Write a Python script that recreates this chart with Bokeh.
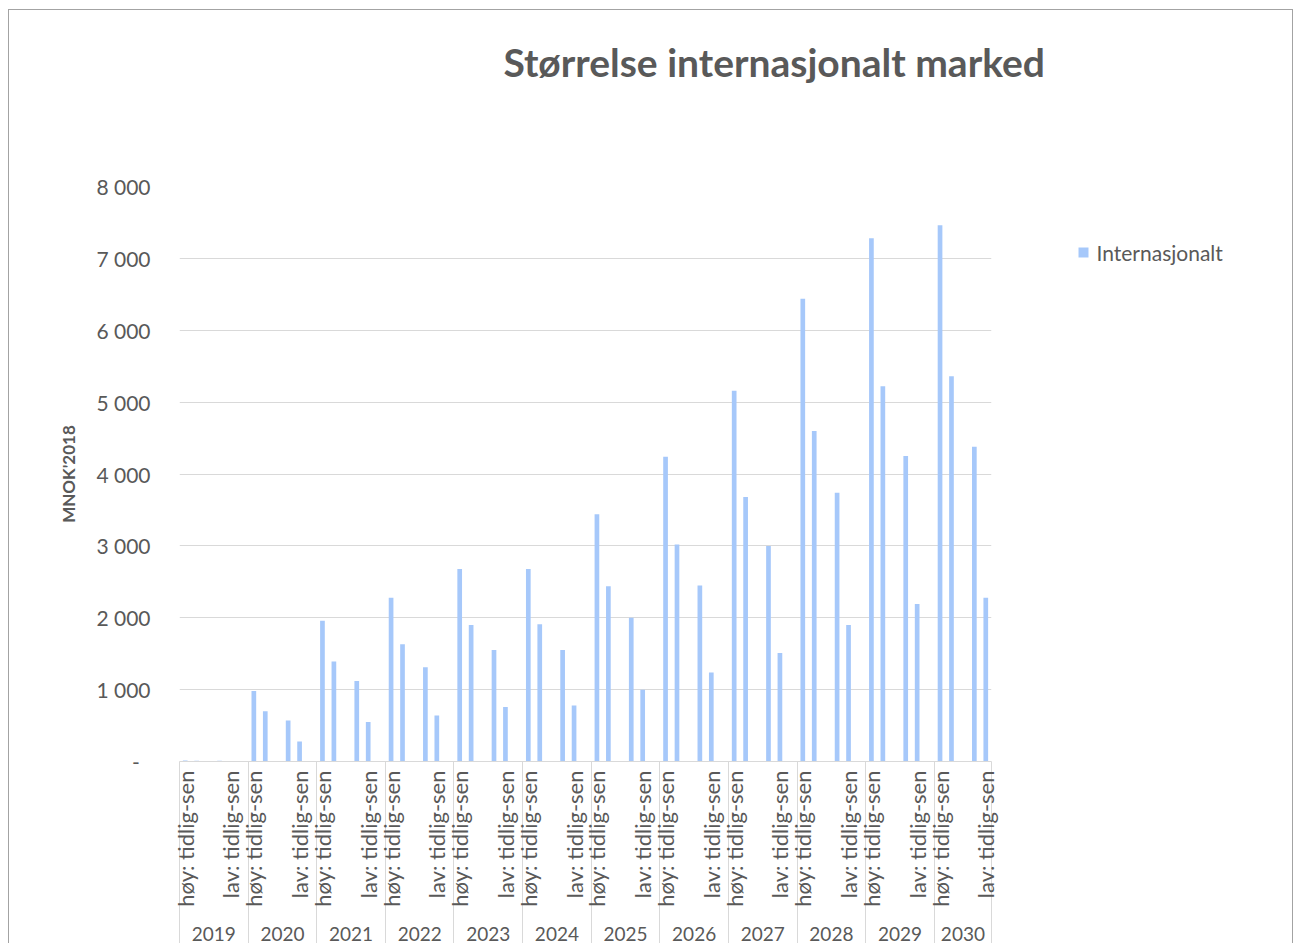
import math
from bokeh.plotting import figure
from bokeh.models import (ColumnDataSource, Range1d, FixedTicker, LinearAxis,
                          InlineStyleSheet)
from bokeh.embed import file_html
from bokeh.resources import INLINE

# ---------------- data ----------------
years = ["2019", "2020", "2021", "2022", "2023", "2024",
         "2025", "2026", "2027", "2028", "2029", "2030"]
scenario_labels = ["høy: tidlig-sen", "lav: tidlig-sen"]
series_name = "Internasjonalt"

# four bars per year (høy: two bars, lav: two bars)
hoy_1 = [15, 980, 1960, 2280, 2680, 2680, 3440, 4240, 5160, 6440, 7280, 7460]
hoy_2 = [12, 700, 1390, 1630, 1900, 1910, 2440, 3020, 3680, 4600, 5220, 5360]
lav_1 = [10, 570, 1120, 1310, 1550, 1550, 2000, 2450, 3000, 3740, 4250, 4380]
lav_2 = [8, 280, 550, 640, 760, 780, 1000, 1240, 1510, 1900, 2190, 2280]

y_tick_values = [0, 1000, 2000, 3000, 4000, 5000, 6000, 7000, 8000]
y_tick_labels = ["-\u00a0\u00a0", "1 000", "2 000", "3 000", "4 000",
                 "5 000", "6 000", "7 000", "8 000"]
y_axis_title = "MNOK'2018"
chart_title = "Størrelse internasjonalt marked"

# ---------------- layout helpers (half-slot units) ----------------
YEAR_W = 12                      # 6 slots per year, 2 units per slot
bar_offsets = [1, 3, 7, 9]       # slot 0,1,3,4 centres
label_offsets = [1, 9]           # slot 0 and slot 4 centres
x_end = YEAR_W * len(years) - 2  # last year has no trailing empty slot

xs, tops = [], []
for i in range(len(years)):
    for off, series in zip(bar_offsets, [hoy_1, hoy_2, lav_1, lav_2]):
        xs.append(i * YEAR_W + off)
        tops.append(series[i])
src = ColumnDataSource(dict(x=xs, top=tops))

label_ticks, label_over = [], {}
for i in range(len(years)):
    for off, lab in zip(label_offsets, scenario_labels):
        t = i * YEAR_W + off
        label_ticks.append(t)
        label_over[t] = lab

boundaries = [i * YEAR_W for i in range(len(years))] + [x_end]
year_ticks, year_over = [], {}
for i, yr in enumerate(years):
    s = i * YEAR_W
    e = min((i + 1) * YEAR_W, x_end)
    c = (s + e) // 2 if (s + e) % 2 == 0 else (s + e) / 2
    year_ticks.append(c)
    year_over[c] = yr

TXT = "#595959"
FONT = "Lato"
BAR = "#a6c8fa"

p = figure(width=1299, height=943,
           x_range=Range1d(0, x_end), y_range=Range1d(0, 8000),
           output_backend="svg", toolbar_location=None,
           min_border_left=179, min_border_right=308,
           min_border_top=186, min_border_bottom=182,
           x_axis_location=None)
p.background_fill_color = "white"
p.border_fill_color = "white"
p.outline_line_color = None
p.stylesheets = [InlineStyleSheet(css="""
:host { position: relative; }
:host::after {
  content: ""; position: absolute; left: 8px; top: 9px; right: 6px; bottom: 0px;
  border: 1px solid #a3a3a3; border-bottom: none; pointer-events: none;
}
""")]

bars = p.vbar(x="x", top="top", width=0.82, source=src,
              fill_color=BAR, line_color=None)

# y axis
yt = FixedTicker(ticks=y_tick_values)
ya = p.yaxis[0]
ya.ticker = yt
ya.major_label_overrides = {v: l for v, l in zip(y_tick_values, y_tick_labels)}
ya.axis_line_color = None
ya.major_tick_line_color = None
ya.minor_tick_line_color = None
ya.major_tick_out = 0
ya.minor_tick_out = 0
ya.major_label_standoff = 29
ya.major_label_text_font = FONT
ya.major_label_text_font_size = "21px"
ya.major_label_text_color = TXT
ya.axis_label = y_axis_title
ya.axis_label_text_font = FONT
ya.axis_label_text_font_style = "bold"
ya.axis_label_text_font_size = "17px"
ya.axis_label_text_color = TXT
ya.axis_label_standoff = 14

p.ygrid.ticker = yt
p.ygrid.grid_line_color = "#d9d9d9"
p.ygrid.grid_line_width = 1
p.xgrid.visible = False

# category axis (scenario labels + year separators as minor ticks)
cat_axis = LinearAxis(ticker=FixedTicker(ticks=label_ticks, minor_ticks=boundaries))
cat_axis.major_label_overrides = label_over
cat_axis.axis_line_color = "#d9d9d9"
cat_axis.major_tick_line_color = None
cat_axis.major_tick_out = 0
cat_axis.major_tick_in = 0
cat_axis.minor_tick_line_color = "#d9d9d9"
cat_axis.minor_tick_out = 182
cat_axis.minor_tick_in = 0
cat_axis.major_label_standoff = 9 - 182
cat_axis.major_label_orientation = math.pi / 2
cat_axis.major_label_text_font = FONT
cat_axis.major_label_text_font_size = "22px"
cat_axis.major_label_text_color = TXT
p.add_layout(cat_axis, "below")

year_axis = LinearAxis(ticker=FixedTicker(ticks=year_ticks))
year_axis.major_label_overrides = year_over
year_axis.axis_line_color = None
year_axis.major_tick_line_color = None
year_axis.minor_tick_line_color = None
year_axis.major_tick_out = 0
year_axis.minor_tick_out = 0
year_axis.major_label_standoff = 17
year_axis.major_label_text_font = FONT
year_axis.major_label_text_font_size = "19px"
year_axis.major_label_text_color = TXT
p.add_layout(year_axis, "below")

# chart title as a label above the plot area
title_tick = 104
title_axis = LinearAxis(ticker=FixedTicker(ticks=[title_tick]))
title_axis.major_label_overrides = {title_tick: chart_title}
title_axis.axis_line_color = None
title_axis.major_tick_line_color = None
title_axis.minor_tick_line_color = None
title_axis.major_tick_out = 0
title_axis.minor_tick_out = 0
title_axis.major_label_standoff = 102
title_axis.major_label_text_font = FONT
title_axis.major_label_text_font_style = "bold"
title_axis.major_label_text_font_size = "39px"
title_axis.major_label_text_color = TXT
p.add_layout(title_axis, "above")

# series key on the right: a square swatch (tick mark) and the series name
key_value = 7080
key_axis = LinearAxis(ticker=FixedTicker(ticks=[key_value]))
key_axis.major_label_overrides = {key_value: series_name}
key_axis.axis_line_color = None
key_axis.minor_tick_line_color = None
key_axis.minor_tick_out = 0
key_axis.major_tick_in = -87
key_axis.major_tick_out = 97
key_axis.major_tick_line_color = BAR
key_axis.major_tick_line_width = 10
key_axis.major_tick_line_cap = "butt"
key_axis.major_label_standoff = 8
key_axis.major_label_text_font = FONT
key_axis.major_label_text_font_size = "21px"
key_axis.major_label_text_color = TXT
p.add_layout(key_axis, "right")

open("out.html", "w").write(file_html(p, INLINE))
